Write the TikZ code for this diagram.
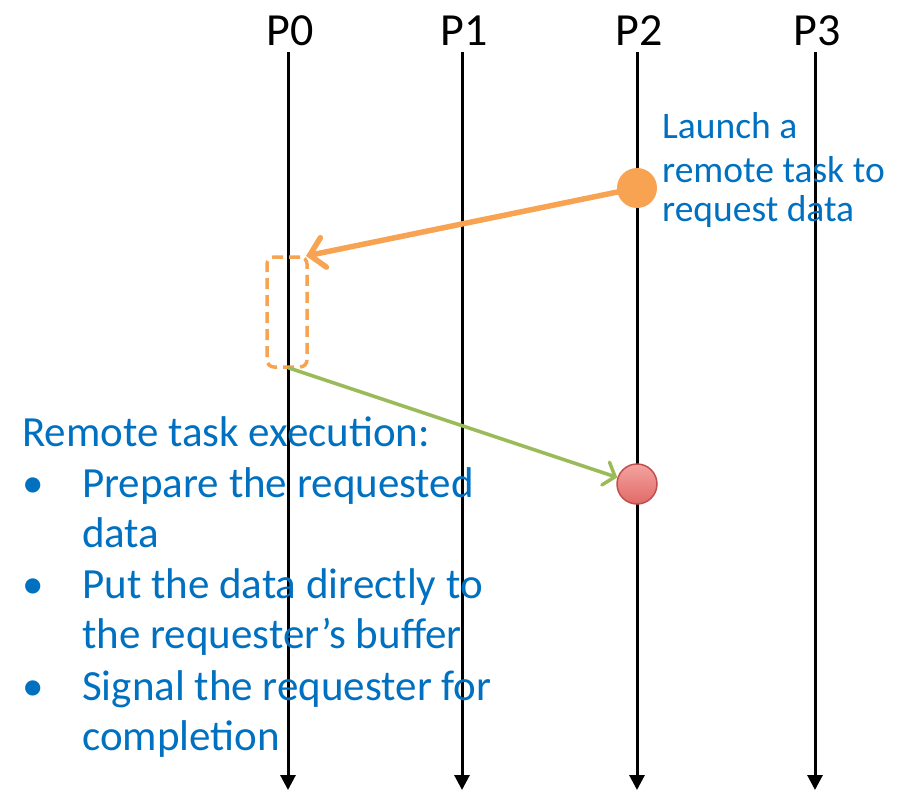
\documentclass[tikz,border=0pt]{standalone}
\usepackage{fontspec}
\setmainfont{Carlito}
\usetikzlibrary{arrows.meta}
\definecolor{txtblue}{HTML}{0070C0}
\definecolor{accorange}{HTML}{F8A352}
\definecolor{accgreen}{HTML}{9BBB59}
\definecolor{accred}{HTML}{C0504D}
\definecolor{redlight}{HTML}{F4A3A1}
\definecolor{reddark}{HTML}{E06A66}
\tikzset{
  proclabel/.style={font=\fontsize{46}{50}\selectfont, anchor=base},
  timeline/.style={line width=3pt, -{Triangle[length=15pt,width=15pt]}},
  bluetext/.style={text=txtblue, inner sep=0pt, anchor=base west},
  bullettext/.style={bluetext, font=\fontsize{43}{50}\selectfont},
  notetext/.style={bluetext, font=\fontsize{37.5}{42}\selectfont}
}
\begin{document}
\begin{tikzpicture}[x=1pt,y=-1pt]
\useasboundingbox (0,0) rectangle (899,790);

% process labels and their time lines
\foreach \name/\x in {0/288,1/462,2/637,3/815}{
  \node[proclabel] (p\name) at (\x+2,45) {P\name};
  \coordinate (top\name) at (\x,52);
  \coordinate (bot\name) at (\x,790);
  \draw[timeline] (top\name) -- (bot\name);
}

% launch event on P2 and the remote task box on P0
\node[circle, fill=accorange, minimum size=40pt, inner sep=0pt] (launch) at (637,188) {};
\node[draw=accorange, line width=3.5pt, dash pattern=on 11pt off 6pt, rounded corners=7pt,
      minimum width=40pt, minimum height=110pt, inner sep=0pt] (task) at (287,312) {};
\coordinate (taskin) at (306,256);
\draw[accorange, line width=5.5pt, line cap=round,
      -{Straight Barb[length=14pt,width=30pt,line cap=round]}] (launch) -- (taskin);

% completion signal back to P2
\node[circle, draw=accred, line width=1.5pt, top color=redlight, bottom color=reddark,
      minimum size=40pt, inner sep=0pt] (done) at (637,484) {};
\coordinate (taskout) at (289,368);
\draw[accgreen, line width=3.5pt, line cap=round,
      -{Straight Barb[length=10pt,width=24pt,line cap=round]}] (taskout) -- (done);

% note beside the launch event
\node[notetext] (n1) at (662,138) {Launch a};
\node[notetext] (n2) at (662,182) {remote task to};
\node[notetext] (n3) at (662,221) {request data};

% description of the remote task
\node[bullettext] (h)  at (22,446) {Remote task execution:};
\node[bullettext] (b1) at (22,497) {•};
\node[bullettext] (l1) at (82,497) {Prepare the requested};
\node[bullettext] (l2) at (82,547) {data};
\node[bullettext] (b2) at (22,598) {•};
\node[bullettext] (l3) at (82,598) {Put the data directly to};
\node[bullettext] (l4) at (82,648) {the requester’s buffer};
\node[bullettext] (b3) at (22,700) {•};
\node[bullettext] (l5) at (82,700) {Signal the requester for};
\node[bullettext] (l6) at (82,750) {completion};
\end{tikzpicture}
\end{document}
